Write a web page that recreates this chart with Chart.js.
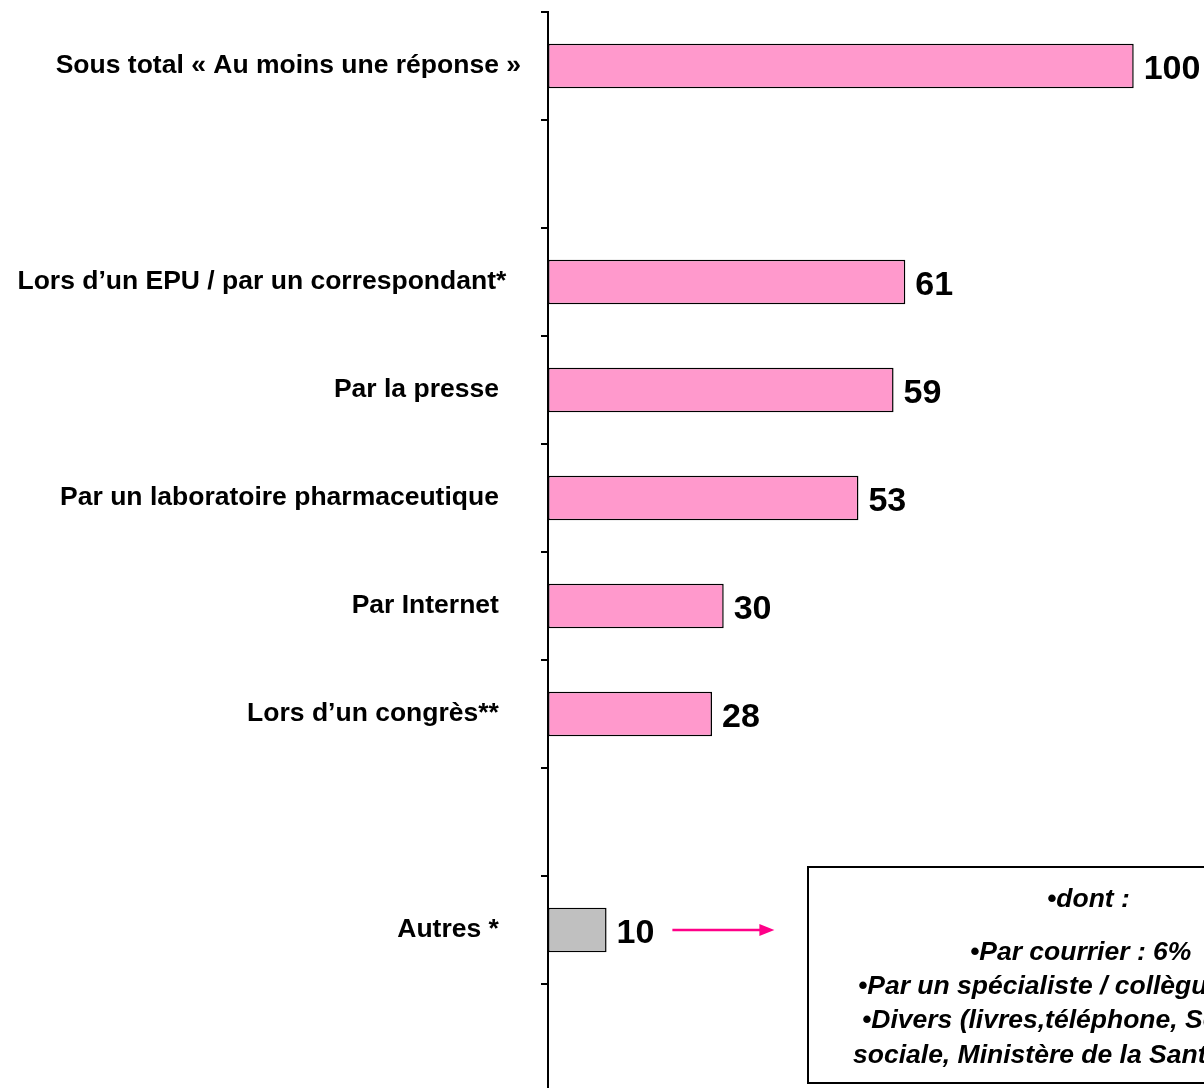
<!DOCTYPE html>
<html>
<head>
<meta charset="utf-8">
<script src="https://cdn.jsdelivr.net/npm/chart.js@4/dist/chart.umd.min.js"></script>
<style>
  html, body { margin: 0; padding: 0; background: #fff; overflow: hidden; }
  #wrap { width: 1204px; height: 1096px; position: relative; }
</style>
</head>
<body>
<div id="wrap"><canvas id="c" width="1204" height="1096"></canvas></div>
<script>
// ---- data ----
const categories = [
  'Sous total « Au moins une réponse »',
  '',
  'Lors d’un EPU / par un correspondant*  ',
  'Par la presse   ',
  'Par un laboratoire pharmaceutique   ',
  'Par Internet   ',
  'Lors d’un congrès**   ',
  '',
  'Autres *   ',
  ''
];
const values = [100, null, 61, 59, 53, 30, 28, null, 10, null];
const barColors = ['#FF99CC', '#FF99CC', '#FF99CC', '#FF99CC', '#FF99CC', '#FF99CC', '#FF99CC', '#FF99CC', '#C0C0C0', '#FF99CC'];
const noteLines = [
  '•dont :',
  '•Par courrier : 6%',
  '•Par un spécialiste / collègue',
  '•Divers (livres,téléphone, Sécurité',
  'sociale, Ministère de la Santé)'
];
const noteIndex = 8; // bar the arrow points from

const LABEL_FONT = 'bold 34px "Liberation Sans", Arial, sans-serif';
const NOTE_FONT = 'bold italic 26.5px "Liberation Sans", Arial, sans-serif';

const valueLabels = {
  id: 'valueLabels',
  afterDatasetsDraw(chart) {
    const ctx = chart.ctx;
    const meta = chart.getDatasetMeta(0);
    ctx.save();
    ctx.font = LABEL_FONT;
    ctx.fillStyle = '#000';
    ctx.textAlign = 'left';
    ctx.textBaseline = 'alphabetic';
    meta.data.forEach((bar, i) => {
      const v = values[i];
      if (v === null || v === undefined) return;
      const txt = String(v);
      const x = bar.x + 10;
      const y = bar.y + 13;
      ctx.fillText(txt, x, y);
      if (i === noteIndex) {
        const w = ctx.measureText(txt).width;
        const ax0 = x + w + 18, ax1 = ax0 + 102, ay = bar.y;
        ctx.strokeStyle = '#FF0088';
        ctx.fillStyle = '#FF0088';
        ctx.lineWidth = 2.5;
        ctx.beginPath();
        ctx.moveTo(ax0, ay);
        ctx.lineTo(ax1 - 12, ay);
        ctx.stroke();
        ctx.beginPath();
        ctx.moveTo(ax1, ay);
        ctx.lineTo(ax1 - 15, ay - 6);
        ctx.lineTo(ax1 - 15, ay + 6);
        ctx.closePath();
        ctx.fill();
        ctx.fillStyle = '#000';
      }
    });
    ctx.restore();
  }
};

const noteBox = {
  id: 'noteBox',
  afterDraw(chart) {
    const ctx = chart.ctx;
    ctx.save();
    ctx.strokeStyle = '#000';
    ctx.lineWidth = 2;
    ctx.fillStyle = '#fff';
    ctx.fillRect(808, 867, 570, 216);
    ctx.strokeRect(808, 867, 570, 216);
    ctx.fillStyle = '#000';
    ctx.font = NOTE_FONT;
    ctx.textAlign = 'left';
    ctx.textBaseline = 'alphabetic';
    const pos = [[1047, 907], [970, 960], [858, 994], [862, 1028], [853, 1063]];
    noteLines.forEach((t, i) => ctx.fillText(t, pos[i][0], pos[i][1]));
    ctx.restore();
  }
};

new Chart(document.getElementById('c'), {
  type: 'bar',
  data: {
    labels: categories,
    datasets: [{
      data: values,
      backgroundColor: barColors,
      borderColor: '#000',
      borderWidth: 1.5,
      borderSkipped: false,
      categoryPercentage: 1,
      barPercentage: 0.41
    }]
  },
  options: {
    indexAxis: 'y',
    responsive: false,
    animation: false,
    events: [],
    layout: { padding: { top: 12, bottom: 4, left: 0, right: 0 } },
    plugins: { legend: { display: false }, tooltip: { enabled: false } },
    scales: {
      x: {
        display: false,
        min: 0,
        max: 112
      },
      y: {
        offset: true,
        afterFit(scale) {
          scale.width = 548;
          scale.paddingTop = 0;
          scale.paddingBottom = 0;
        },
        border: { display: true, color: '#000', width: 2 },
        grid: {
          offset: true,
          drawOnChartArea: false,
          drawTicks: true,
          tickLength: 7,
          color: '#000',
          lineWidth: 2
        },
        ticks: {
          autoSkip: false,
          padding: 20,
          color: '#000',
          font: { family: '"Liberation Sans", Arial, sans-serif', size: 26.5, weight: 'bold' }
        }
      }
    }
  },
  plugins: [valueLabels, noteBox]
});
</script>
</body>
</html>
